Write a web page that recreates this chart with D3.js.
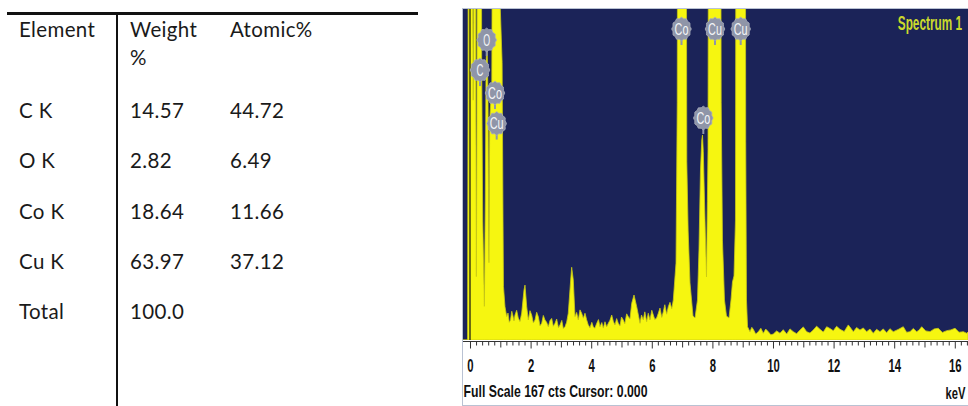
<!DOCTYPE html>
<html>
<head>
<meta charset="utf-8">
<script src="https://cdn.jsdelivr.net/npm/d3@7"></script>
<style>
  html, body { margin: 0; padding: 0; background: #fff; }
  svg { display: block; }
</style>
</head>
<body>
<svg id="fig" width="968" height="406"></svg>
<script>
// ---- Composition table ----
const tableHeaders = ["Element", "Weight", "Atomic%"];
const elements = ["C K", "O K", "Co K", "Cu K", "Total"];
const weightPct = [14.57, 2.82, 18.64, 63.97, 100.0];
const atomicPct = [44.72, 6.49, 11.66, 37.12, null];

// ---- EDS spectrum: [energy keV, counts] ----
const spectrum = [
  [-0.231, 0], [-0.08, 0], [-0.065, 120], [-0.045, 500], [0.07, 500], [0.095, 160],
  [0.105, 121], [0.12, 160], [0.135, 400], [0.18, 400], [0.195, 110], [0.21, 32],
  [0.23, 110], [0.255, 400], [0.36, 400], [0.385, 140], [0.42, 60], [0.475, 17],
  [0.505, 70], [0.53, 140], [0.565, 150], [0.595, 120], [0.625, 39], [0.65, 110],
  [0.72, 130], [0.775, 400], [0.925, 400], [0.95, 190], [1.06, 140], [1.09, 60],
  [1.105, 27], [1.155, 16.8], [1.211, 11.8],
  [1.254, 13.6], [1.296, 8.9], [1.337, 10.1], [1.378, 14.5], [1.419, 12.1], [1.452, 9.6],
  [1.485, 12.6], [1.54, 15.0], [1.594, 11.1], [1.65, 9.3], [1.706, 13.6],
  [1.782, 25.2], [1.815, 27.7], [1.871, 16.8], [1.924, 10.1], [1.98, 14.8], [2.036, 12.6],
  [2.09, 8.6], [2.145, 10.1], [2.20, 14.0], [2.254, 11.8], [2.31, 7.2], [2.366, 8.4],
  [2.42, 12.4], [2.475, 10.1], [2.53, 8.9], [2.584, 6.7], [2.64, 9.8], [2.696, 10.9],
  [2.75, 6.9], [2.805, 8.4], [2.86, 10.6], [2.92, 6.2], [2.970, 7.6], [3.03, 9.9],
  [3.08, 5.8], [3.135, 6.7], [3.19, 9.0], [3.244, 13.5], [3.323, 30.3], [3.356, 36.7],
  [3.409, 30.3], [3.465, 11.8], [3.52, 13.9], [3.574, 10.1], [3.63, 15.2], [3.686, 13.5],
  [3.74, 11.0], [3.795, 13.5], [3.85, 10.2], [3.904, 7.6], [3.96, 6.2], [4.02, 8.9],
  [4.069, 6.7], [4.12, 5.9], [4.182, 8.4], [4.24, 10.3], [4.290, 6.7], [4.35, 8.8],
  [4.40, 6.0], [4.455, 9.2], [4.51, 6.6], [4.564, 8.4], [4.62, 10.0], [4.677, 12.6],
  [4.73, 9.4], [4.785, 7.6], [4.84, 10.8], [4.894, 8.4], [4.95, 7.1], [5.00, 11.6],
  [5.059, 10.1], [5.11, 8.2], [5.17, 13.2], [5.224, 11.8], [5.28, 10.6], [5.337, 18.5],
  [5.413, 22.7], [5.502, 16.8], [5.611, 8.4], [5.66, 12.6], [5.719, 10.1], [5.77, 14.2],
  [5.83, 9.2], [5.884, 13.5], [5.94, 10.1], [6.00, 15.0], [6.050, 12.6], [6.10, 10.4],
  [6.16, 11.1], [6.215, 13.5], [6.27, 16.1], [6.33, 11.4], [6.380, 14.3], [6.43, 17.8],
  [6.49, 13.0], [6.545, 16.8], [6.60, 19.0], [6.66, 15.8], [6.710, 20.2], [6.799, 38.8],
  [6.84, 120], [6.87, 400], [7.12, 400], [7.155, 90], [7.20, 55], [7.261, 28.8],
  [7.36, 12.1], [7.426, 11.1], [7.508, 20.2], [7.557, 45.4], [7.607, 85.8], [7.65, 101],
  [7.673, 103.4], [7.70, 95], [7.739, 70.6], [7.805, 31.8], [7.835, 70], [7.855, 96],
  [7.89, 400], [8.255, 400], [8.29, 120], [8.333, 50], [8.399, 20.2], [8.465, 12.1],
  [8.548, 11.1], [8.614, 20.2], [8.663, 29.3], [8.713, 32.3], [8.762, 60.5], [8.79, 400],
  [9.075, 400], [9.10, 100], [9.125, 20.2], [9.16, 6.7],
  [9.241, 4.2], [9.30, 6.4], [9.350, 5.4], [9.43, 3.0], [9.515, 4.2], [9.60, 5.9],
  [9.680, 3.4], [9.76, 5.5], [9.845, 4.2], [9.93, 2.6], [10.010, 3.0], [10.12, 4.6],
  [10.231, 3.4], [10.34, 5.2], [10.452, 3.0], [10.56, 5.6], [10.670, 4.2], [10.78, 3.2],
  [10.891, 5.0], [11.00, 6.6], [11.112, 4.2], [11.22, 3.5], [11.330, 5.0], [11.44, 7.0],
  [11.551, 5.4], [11.66, 4.0], [11.772, 6.7], [11.88, 5.8], [11.990, 4.7], [12.10, 6.9],
  [12.211, 5.4], [12.35, 4.3], [12.485, 7.6], [12.57, 5.9], [12.650, 4.2], [12.76, 6.3],
  [12.871, 5.0], [12.98, 6.1], [13.092, 4.2], [13.20, 5.5], [13.310, 3.4], [13.42, 5.4],
  [13.531, 4.2], [13.64, 5.6], [13.752, 3.7], [13.86, 5.7], [13.970, 4.2], [14.13, 5.3],
  [14.300, 6.7], [14.41, 3.9], [14.521, 4.2], [14.63, 5.8], [14.743, 4.2], [14.82, 5.0],
  [14.908, 6.7], [15.04, 4.6], [15.182, 4.2], [15.32, 5.6], [15.455, 5.9], [15.59, 3.8],
  [15.733, 4.7], [15.87, 5.1], [16.007, 5.9], [16.14, 3.9], [16.281, 4.2], [16.393, 3.4],
  [16.436, 4.0]
];

// Identified lines: element, energy (keV), tag height (counts)
const peakElements = ["O", "C", "Co", "Cu", "Co", "Co", "Cu", "Cu"];
const peakEnergies = [0.551, 0.33, 0.825, 0.881, 6.98, 7.70, 8.086, 8.934];
const peakTagCounts = [151.4, 136.2, 124.6, 109.2, 156.9, 112.0, 156.9, 156.9];

const xTicks = [0, 2, 4, 6, 8, 10, 12, 14, 16];
const fullScale = 167;
const cursorKeV = 0.000;

const svg = d3.select("#fig");
const sansNarrow = "'Liberation Sans', Arial, sans-serif";

// ================= Table =================
const tbl = svg.append("g").attr("class", "table");
const tFont = "Lato, 'Open Sans', sans-serif";
const tSize = 20.5;
tbl.append("line").attr("x1", 7).attr("x2", 418).attr("y1", 13.5).attr("y2", 13.5)
  .attr("stroke", "#111").attr("stroke-width", 3);
tbl.append("line").attr("x1", 117).attr("x2", 117).attr("y1", 13).attr("y2", 406)
  .attr("stroke", "#111").attr("stroke-width", 2);

const colX = [19, 130, 230];
const headerBase = 37;
function cell(sel) {
  return sel.attr("font-family", tFont).attr("font-size", tSize)
    .attr("letter-spacing", 0.35).attr("fill", "#1a1a1a");
}
tbl.selectAll("text.hdr").data(tableHeaders).enter().append("text")
  .attr("class", "hdr")
  .attr("x", (d, i) => colX[i]).attr("y", headerBase)
  .call(cell).text(d => d);
tbl.append("text").attr("x", colX[1]).attr("y", headerBase + 28).call(cell).text("%");

const rowY = d3.scalePoint().domain(elements).range([118, 319]);
const rows = tbl.selectAll("g.row").data(elements).enter().append("g").attr("class", "row");
rows.append("text").attr("x", colX[0]).attr("y", d => rowY(d)).call(cell).text(d => d);
rows.append("text").attr("x", colX[1]).attr("y", d => rowY(d)).call(cell)
  .text((d, i) => weightPct[i] === 100 ? weightPct[i].toFixed(1) : weightPct[i].toFixed(2));
rows.append("text").attr("x", colX[2]).attr("y", d => rowY(d)).call(cell)
  .text((d, i) => atomicPct[i] == null ? "" : atomicPct[i].toFixed(2));

// ================= Spectrum =================
const plot = { left: 463, right: 968, top: 9, bottom: 340 };
const x = d3.scaleLinear().domain([-0.231, 16.436]).range([plot.left, plot.right]);
const y = d3.scaleLinear().domain([0, fullScale]).range([plot.bottom, plot.top]);

const spec = svg.append("g").attr("class", "spectrum");

// panel frame
spec.append("rect").attr("x", 462.5).attr("y", 8.5).attr("width", 506).attr("height", 397)
  .attr("fill", "#fff").attr("stroke", "#b9c2d3").attr("stroke-width", 1);

spec.append("clipPath").attr("id", "plotClip").append("rect")
  .attr("x", plot.left).attr("y", plot.top)
  .attr("width", plot.right - plot.left).attr("height", plot.bottom - plot.top);

spec.append("rect").attr("x", plot.left).attr("y", plot.top)
  .attr("width", plot.right - plot.left).attr("height", plot.bottom - plot.top)
  .attr("fill", "#1b2358");

const area = d3.area().x(d => x(d[0])).y0(y(0)).y1(d => y(d[1])).curve(d3.curveLinear);
spec.append("path").datum(spectrum)
  .attr("clip-path", "url(#plotClip)")
  .attr("d", area)
  .attr("fill", "#f6f610")
  .attr("stroke", "#c9c916").attr("stroke-width", 0.8);

// cursor line
spec.append("line").attr("x1", x(cursorKeV)).attr("x2", x(cursorKeV))
  .attr("y1", plot.top).attr("y2", plot.bottom)
  .attr("stroke", "#111").attr("stroke-width", 1.2);

// element tags
function gearPath(rx, ry) {
  const n = 12;
  const pts = d3.range(2 * n).map(i => {
    const a = i * Math.PI / n;
    const r = i % 2 ? 1.0 : 1.11;
    return [Math.cos(a) * rx * r, Math.sin(a) * ry * r];
  });
  return d3.line().curve(d3.curveCardinalClosed)(pts);
}
const tags = spec.selectAll("g.tag").data(peakElements).enter().append("g")
  .attr("class", "tag")
  .attr("transform", (d, i) => `translate(${x(peakEnergies[i])},${y(peakTagCounts[i])})`);
tags.append("line").attr("x1", 0).attr("x2", 0).attr("y1", 10).attr("y2", 16)
  .attr("stroke", "#8f95a8").attr("stroke-width", 2);
tags.append("path").attr("d", gearPath(8.8, 10.6))
  .attr("fill", "#8f95a8").attr("stroke", "#a9aebd").attr("stroke-width", 0.8);
tags.append("text").attr("text-anchor", "middle").attr("y", 5.8)
  .attr("font-family", sansNarrow).attr("font-size", 16)
  .attr("fill", "#f4f5f8")
  .attr("textLength", d => d.length * 6.9).attr("lengthAdjust", "spacingAndGlyphs")
  .text(d => d);

// title (condensed by a horizontal scale)
spec.append("text")
  .attr("transform", "translate(962,29.5) scale(0.59,1)")
  .attr("text-anchor", "end")
  .attr("font-family", sansNarrow).attr("font-size", 20)
  .attr("font-weight", "bold").attr("fill", "#cbd92c")
  .text("Spectrum 1");

// axis
const axisY = 341.5;
spec.append("line").attr("x1", plot.left).attr("x2", plot.right)
  .attr("y1", axisY).attr("y2", axisY).attr("stroke", "#333").attr("stroke-width", 1);
const minorTicks = d3.range(0, 16.41, 0.2).map(v => +v.toFixed(1)).filter(v => Math.abs(v - Math.round(v)) > 1e-6);
const gMinor = spec.append("g").attr("transform", `translate(0,${axisY})`)
  .call(d3.axisBottom(x).tickValues(minorTicks).tickSize(4).tickFormat(""));
gMinor.select(".domain").remove();
const oddTicks = d3.range(1, 17, 2);
const gOdd = spec.append("g").attr("transform", `translate(0,${axisY})`)
  .call(d3.axisBottom(x).tickValues(oddTicks).tickSize(6).tickFormat(""));
gOdd.select(".domain").remove();
const gMajor = spec.append("g").attr("transform", `translate(0,${axisY})`)
  .call(d3.axisBottom(x).tickValues(xTicks).tickSize(7).tickPadding(11).tickFormat(d3.format("d")));
gMajor.select(".domain").remove();
spec.selectAll(".tick line").attr("stroke", "#333");
gMajor.selectAll("text")
  .attr("font-family", sansNarrow).attr("font-size", 18)
  .attr("font-weight", "bold").attr("fill", "#111")
  .attr("textLength", d => String(d).length * 6.3).attr("lengthAdjust", "spacingAndGlyphs");

// footer
spec.append("text").attr("x", 463.5).attr("y", 397)
  .attr("font-family", sansNarrow).attr("font-size", 16.5)
  .attr("font-weight", "bold").attr("fill", "#111")
  .attr("textLength", 184).attr("lengthAdjust", "spacingAndGlyphs")
  .text(`Full Scale ${fullScale} cts Cursor: ${cursorKeV.toFixed(3)}`);
spec.append("text")
  .attr("transform", "translate(965.5,399) scale(0.68,1)")
  .attr("text-anchor", "end")
  .attr("font-family", sansNarrow).attr("font-size", 16.5)
  .attr("font-weight", "bold").attr("fill", "#111")
  .text("keV");
</script>
</body>
</html>
